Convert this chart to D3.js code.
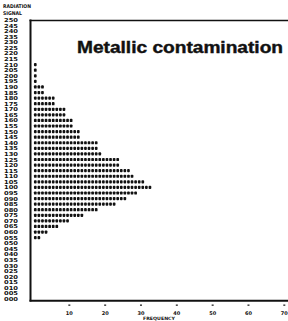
<!DOCTYPE html>
<html>
<head>
<meta charset="utf-8">
<script src="https://cdn.jsdelivr.net/npm/d3@7"></script>
<style>
  body { margin: 0; background: #fff; }
  text { fill: #111; }
</style>
</head>
<body>
<svg id="chart" width="288" height="321"></svg>
<script>
// radiation signal rows (top to bottom) and how many hits each one got
const signals = [210, 205, 200, 195, 190, 185, 180, 175, 170, 165, 160, 155, 150, 145,
                 140, 135, 130, 125, 120, 115, 110, 105, 100, 95, 90, 85, 80, 75, 70, 65, 60, 55];
const counts  = [1, 1, 1, 1, 3, 3, 6, 6, 9, 9, 11, 11, 13, 13,
                 18, 18, 19, 24, 24, 27, 28, 31, 33, 29, 26, 23, 18, 14, 10, 7, 4, 2];
const yTicks = d3.range(0, 251, 5);
const xTicks = [10, 20, 30, 40, 50, 60, 70];
const title = "Metallic contamination";

const svg = d3.select("#chart");

const x = d3.scaleLinear().domain([0, 70]).range([33.5, 284.3]);
const y = d3.scaleLinear().domain([0, 250]).range([299, 20]);

const small = "'DejaVu Sans', sans-serif";

// frame: left axis, top rule, bottom axis
svg.append("line").attr("x1", 30.5).attr("x2", 30.5).attr("y1", 19.5).attr("y2", 301.5)
    .attr("stroke", "#111").attr("stroke-width", 2);
svg.append("line").attr("x1", 29.5).attr("x2", 288).attr("y1", 20.5).attr("y2", 20.5)
    .attr("stroke", "#111").attr("stroke-width", 1.6);
svg.append("line").attr("x1", 29.5).attr("x2", 288).attr("y1", 300.8).attr("y2", 300.8)
    .attr("stroke", "#111").attr("stroke-width", 2);

// y labels
svg.append("g").selectAll("text")
    .data(yTicks)
    .join("text")
    .attr("x", 4)
    .attr("y", d => y(d) + 2)
    .attr("font-family", small)
    .attr("font-weight", "bold")
    .attr("font-size", 5.5)
    .attr("textLength", 14)
    .attr("lengthAdjust", "spacingAndGlyphs")
    .text(d => d3.format("03d")(d));

svg.append("text").attr("x", 3).attr("y", 7.5)
    .attr("font-family", small).attr("font-weight", "bold").attr("font-size", 5)
    .attr("textLength", 28).attr("lengthAdjust", "spacingAndGlyphs")
    .text("RADIATION");
svg.append("text").attr("x", 3).attr("y", 14.5)
    .attr("font-family", small).attr("font-weight", "bold").attr("font-size", 5)
    .attr("textLength", 19).attr("lengthAdjust", "spacingAndGlyphs")
    .text("SIGNAL");

// x ticks and labels
const xg = svg.append("g");
xg.selectAll("rect")
    .data(xTicks)
    .join("rect")
    .attr("x", d => x(d) - 1)
    .attr("y", 304.5)
    .attr("width", 2)
    .attr("height", 1.3)
    .attr("fill", "#222");
xg.selectAll("text")
    .data(xTicks)
    .join("text")
    .attr("x", d => x(d))
    .attr("y", 314.5)
    .attr("text-anchor", "middle")
    .attr("font-family", small)
    .attr("font-weight", "bold")
    .attr("font-size", 5)
    .text(d => d);
svg.append("text").attr("x", 143).attr("y", 320)
    .attr("font-family", small).attr("font-weight", "bold").attr("font-size", 4.5)
    .attr("textLength", 32).attr("lengthAdjust", "spacingAndGlyphs")
    .text("FREQUENCY");

// rows of dots, one dot per count
const rows = svg.append("g").selectAll("g")
    .data(signals.map((s, i) => ({ signal: s, count: counts[i] })))
    .join("g")
    .attr("transform", d => `translate(0,${y(d.signal)})`);

rows.selectAll("rect")
    .data(d => d3.range(d.count))
    .join("rect")
    .attr("x", i => x(i + 0.5) - 1.35)
    .attr("y", -1.6)
    .attr("width", 2.7)
    .attr("height", 3.2)
    .attr("rx", 0.9)
    .attr("fill", "#111");

// title
svg.append("text")
    .attr("x", 77)
    .attr("y", 53)
    .attr("font-family", "'Liberation Sans', Arial, sans-serif")
    .attr("font-weight", "bold")
    .attr("font-size", 16)
    .attr("stroke", "#111")
    .attr("stroke-width", 0.4)
    .attr("textLength", 206)
    .attr("lengthAdjust", "spacingAndGlyphs")
    .text(title);
</script>
</body>
</html>
